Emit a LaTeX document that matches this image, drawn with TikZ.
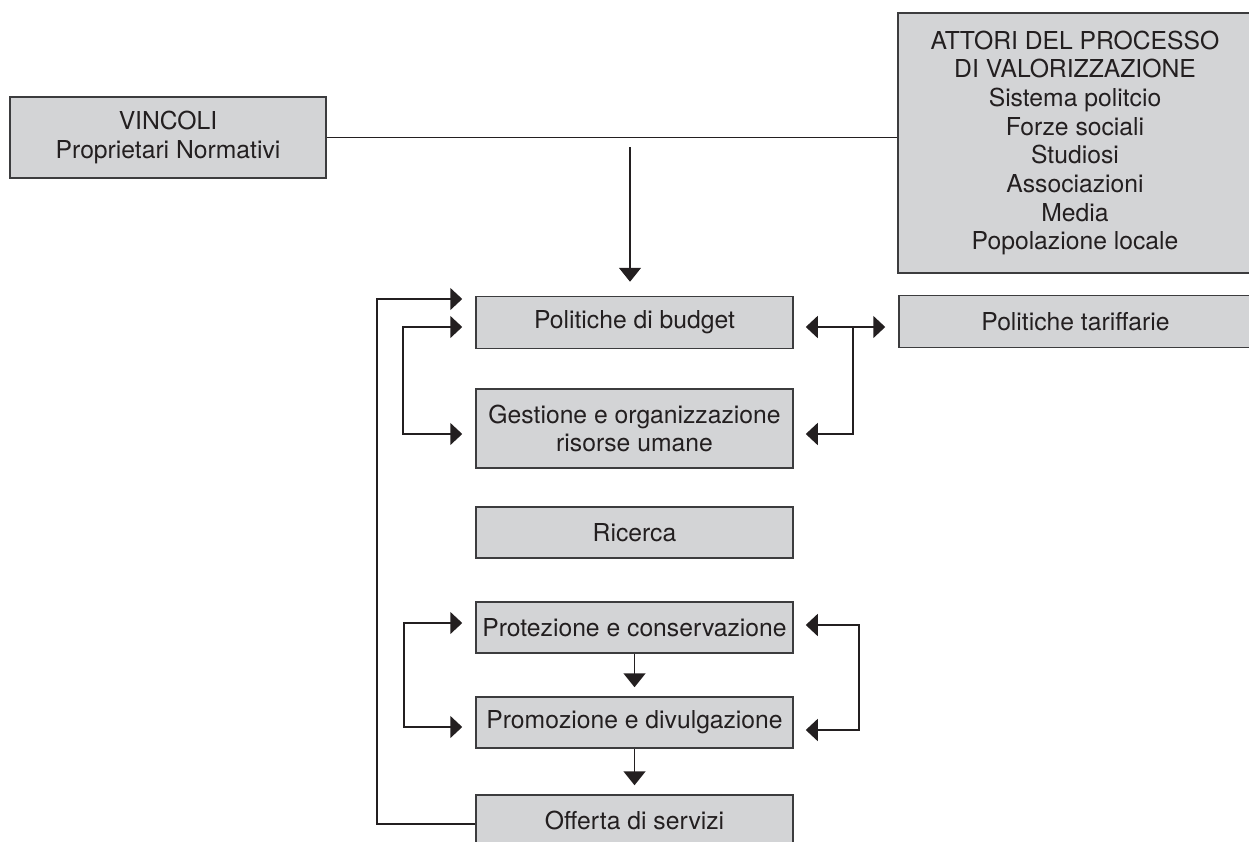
\documentclass[tikz,border=0pt]{standalone}
\usepackage{fontspec}
\setmainfont{TeX Gyre Heros}
\usetikzlibrary{arrows.meta,calc}
\definecolor{boxfill}{RGB}{211,212,214}
\definecolor{boxline}{RGB}{60,60,62}
\definecolor{ink}{RGB}{35,31,32}
\tikzset{
  block/.style={draw=boxline, line width=1.5pt, fill=boxfill, text=ink,
    inner sep=0pt, align=center, font=\fontsize{24.7}{28.7}\selectfont},
  link/.style={draw=ink, line width=1.6pt},
  vtip/.style={-{Triangle[length=14pt,width=22pt]}},
  htip/.style={-{Triangle[length=12pt,width=22pt]}},
  htips/.style={{Triangle[length=12pt,width=22pt]}-{Triangle[length=12pt,width=22pt]}}
}
\begin{document}
\begin{tikzpicture}[x=1pt,y=-1pt]
\useasboundingbox (0,0) rectangle (1249,841);

% boxes
\node[block, minimum width=316pt, minimum height=81pt] (vinc) at (168,137.5)
  {VINCOLI\\Proprietari Normativi};
\node[block, minimum width=354pt, minimum height=260pt] (attori) at (1075,143)
  {ATTORI DEL PROCESSO\\DI VALORIZZAZIONE\\Sistema politcio\\Forze sociali\\Studiosi\\Associazioni\\Media\\Popolazione locale};
\node[block, minimum width=317pt, minimum height=52pt] (budget) at (634.5,322.5) {Politiche di budget};
\node[block, minimum width=353pt, minimum height=52pt] (tariff) at (1075.5,321.5) {Politiche tariffarie};
\node[block, minimum width=317pt, minimum height=79pt] (gest) at (634.5,428.5)
  {Gestione e organizzazione\\risorse umane};
\node[block, minimum width=317pt, minimum height=51pt] (ricerca) at (634.5,532.5) {Ricerca};
\node[block, minimum width=317pt, minimum height=51pt] (prot) at (634.5,627.5) {Protezione e conservazione};
\node[block, minimum width=317pt, minimum height=51pt] (prom) at (634.5,722.5) {Promozione e divulgazione};
\node[block, minimum width=317pt, minimum height=51pt] (offerta) at (634.5,820.5) {Offerta di servizi};

% junction points of the connectors
\coordinate (top) at (630,147);
\coordinate (jr1) at (853,327);
\coordinate (jr2) at (853,434);
\coordinate (jl1) at (403,327);
\coordinate (jl2) at (403,434);
\coordinate (ot) at (377,299);
\coordinate (ob) at (377,824);
\coordinate (pr1) at (859,625);
\coordinate (pr2) at (859,730);
\coordinate (pl1) at (404,623);
\coordinate (pl2) at (404,727);

% constraints line to the actors
\draw[link] (vinc.east) -- (vinc.east -| attori.west);
\draw[link, vtip, shorten >=14pt] (top) -- (top |- budget.north);

% budget / tariffs / human resources
\draw[link, htip, shorten >=12pt] (jr1) -- (jr1 -| budget.east);
\draw[link, htip, shorten >=13pt] (jr1) -- (jr1 -| tariff.west);
\draw[link, htip, shorten >=12pt] (jr1) -- (jr2) -- (jr2 -| gest.east);
\draw[link, htips, shorten <=13pt, shorten >=13pt]
  (jl1 -| budget.west) -- (jl1) -- (jl2) -- (jl2 -| gest.west);

% feedback from the services offered
\draw[link, htip, shorten >=13pt] (ob -| offerta.west) -- (ob) -- (ot) -- (ot -| budget.west);

% protection and promotion
\draw[link, htips, shorten <=12pt, shorten >=12pt]
  (pr1 -| prot.east) -- (pr1) -- (pr2) -- (pr2 -| prom.east);
\draw[link, htips, shorten <=13pt, shorten >=13pt]
  (pl1 -| prot.west) -- (pl1) -- (pl2) -- (pl2 -| prom.west);
\draw[link, vtip, shorten >=9pt] (prot.south) -- (prom.north);
\draw[link, vtip, shorten >=9pt] (prom.south) -- (offerta.north);
\end{tikzpicture}
\end{document}
